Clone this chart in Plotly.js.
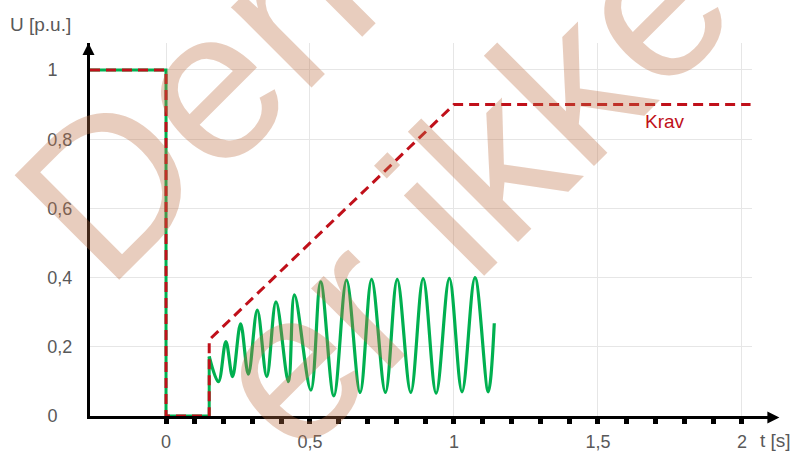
<!DOCTYPE html>
<html>
<head>
<meta charset="utf-8">
<script src="https://cdn.plot.ly/plotly-3.0.1.min.js"></script>
<style>html,body{margin:0;padding:0;background:#fff;}#chart{width:795px;height:453px;}</style>
</head>
<body>
<div id="chart"></div>
<script>
// Krav (requirement) curve
const kravT = [-0.264, 0, 0, 0.15, 0.15, 1.0, 2.03];
const kravU = [1, 1, 0, 0, 0.22, 0.9, 0.9];
// Measured voltage: step part
const maalT = [-0.264, 0, 0, 0.15, 0.15];
const maalU = [1, 1, 0, 0, 0.172];
const oscT = [0.15, 0.182, 0.208, 0.231, 0.259, 0.286, 0.317, 0.350, 0.382, 0.425, 0.446, 0.503, 0.537, 0.583, 0.627, 0.674, 0.714, 0.762, 0.803, 0.850, 0.893, 0.938, 0.984, 1.028, 1.073, 1.119, 1.140];
const oscU = [0.172, 0.099, 0.215, 0.114, 0.266, 0.121, 0.306, 0.114, 0.330, 0.099, 0.350, 0.075, 0.388, 0.058, 0.393, 0.068, 0.395, 0.068, 0.395, 0.068, 0.397, 0.066, 0.398, 0.070, 0.400, 0.070, 0.268];
// Ticks
const xTickVals = [0, 0.5, 1, 1.5, 2];
const xTickText = ["0", "0,5", "1", "1,5", "2"];
const xMinorVals = [0.1,0.2,0.3,0.4,0.6,0.7,0.8,0.9,1.1,1.2,1.3,1.4,1.6,1.7,1.8,1.9];
const yTickVals = [0, 0.2, 0.4, 0.6, 0.8, 1];
const yTickText = ["0\u00a0\u00a0\u00a0", "0,2", "0,4", "0,6", "0,8", "1\u00a0\u00a0\u00a0"];

const green = "#00b050";
const red = "#c0101a";
const gray = "#595959";
const font = "Liberation Sans, Arial, sans-serif";

const traces = [
  {x: maalT, y: maalU, mode: "lines", line: {color: green, width: 3}, hoverinfo: "skip", showlegend: false},
  {x: oscT, y: oscU, mode: "lines", line: {color: green, width: 3.2, shape: "spline", smoothing: 1}, hoverinfo: "skip", showlegend: false},
  {x: kravT, y: kravU, mode: "lines", line: {color: red, width: 3, dash: "10px,6px"}, hoverinfo: "skip", showlegend: false}
];

const W = 795, H = 453, L = 90, R = 43, T = 43, B = 37;
const pw = W - L - R, ph = H - T - B;
function px2paperX(p){ return (p - L) / pw; }
function px2paperY(p){ return (H - B - p) / ph; }

const wmColor = "rgba(189,112,69,0.35)";

const layout = {
  width: W, height: H,
  margin: {l: L, r: R, t: T, b: B, pad: 0},
  paper_bgcolor: "#fff", plot_bgcolor: "#fff",
  separators: ", ",
  font: {family: font, color: gray, size: 18},
  xaxis: {
    range: [-0.264, 2.035],
    tickmode: "array", tickvals: xTickVals, ticktext: xTickText,
    ticks: "outside", ticklen: 5, tickwidth: 5, tickcolor: "#000",
    showline: true, linecolor: "#000", linewidth: 3,
    showgrid: true, gridcolor: "#e6e6e6", gridwidth: 1,
    zeroline: false, layer: "below traces",
    tickfont: {family: font, size: 18, color: gray},
    ticklabelstandoff: 2,
    minor: {tickmode: "array", tickvals: xMinorVals, ticks: "outside", ticklen: 5, tickwidth: 5, tickcolor: "#000", showgrid: false}
  },
  yaxis: {
    range: [0, 1.078],
    tickmode: "array", tickvals: yTickVals, ticktext: yTickText,
    ticks: "",
    showline: true, linecolor: "#000", linewidth: 3,
    showgrid: true, gridcolor: "#e6e6e6", gridwidth: 1,
    zeroline: false, layer: "below traces",
    tickfont: {family: font, size: 18, color: gray},
    ticklabelstandoff: 11
  },
  annotations: [
    // axis arrows
    {xref: "x", yref: "paper", axref: "x", ayref: "paper", x: 2.13, y: -1.5/ph, ax: 1.98, ay: -1.5/ph,
     text: "", showarrow: true, arrowhead: 2, arrowsize: 0.8, arrowwidth: 3, arrowcolor: "#000"},
    {xref: "paper", yref: "y", axref: "paper", ayref: "y", x: -1.5/pw, y: 1.078, ax: -1.5/pw, ay: 1.0,
     text: "", showarrow: true, arrowhead: 2, arrowsize: 0.8, arrowwidth: 3, arrowcolor: "#000"},
    // axis titles
    {xref: "paper", yref: "paper", x: px2paperX(8), y: px2paperY(25), xanchor: "left", yanchor: "middle",
     text: "U [p.u.]", showarrow: false, font: {family: font, size: 19, color: gray}},
    {xref: "paper", yref: "paper", x: px2paperX(758), y: px2paperY(440), xanchor: "left", yanchor: "middle",
     text: "t [s]", showarrow: false, font: {family: font, size: 19, color: gray}},
    // series label
    {xref: "x", yref: "y", x: 1.733, y: 0.85, xanchor: "center", yanchor: "middle",
     text: "Krav", showarrow: false, font: {family: font, size: 19, color: red}},
    // watermark
    {xref: "paper", yref: "paper", x: px2paperX(193), y: px2paperY(100), xanchor: "center", yanchor: "middle",
     text: "Den", showarrow: false, textangle: -45, font: {family: font, size: 215, color: wmColor}},
    {xref: "paper", yref: "paper", x: px2paperX(467), y: px2paperY(187), xanchor: "center", yanchor: "middle",
     text: "er ikke", showarrow: false, textangle: -45, font: {family: font, size: 215, color: wmColor}}
  ]
};

Plotly.newPlot("chart", traces, layout, {staticPlot: true, displayModeBar: false});
</script>
</body>
</html>
